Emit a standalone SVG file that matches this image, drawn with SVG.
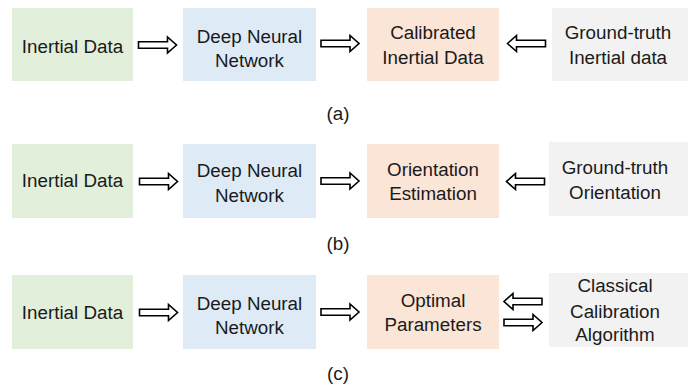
<svg xmlns="http://www.w3.org/2000/svg" width="688" height="388" viewBox="0 0 688 388">
<style>
text{font-family:"Liberation Sans","Open Sans",Arial,sans-serif;font-size:18.8px;fill:#1a1a1a;text-anchor:middle}
.g{fill:#E2EFDA}.b{fill:#DEEBF7}.p{fill:#FBE5D6}.y{fill:#F2F2F2}
.arr{fill:#fff;stroke:#000;stroke-width:1.6;stroke-linejoin:miter}
</style>
<defs>
<path id="ar" class="arr" d="M0,-3.3 H29 V-8 L38,0 L29,8 V3.3 H0 Z"/>
<path id="al" class="arr" d="M38,-3.3 H9 V-8 L0,0 L9,8 V3.3 H38 Z"/>
</defs>
<g id="a-input"><rect class="g" x="12" y="8" width="121" height="73"/><text x="72.5" y="52.5">Inertial Data</text></g>
<g id="a-dnn"><rect class="b" x="183" y="8" width="133" height="73"/><text x="249.5" y="42.5">Deep Neural</text><text x="249.5" y="66.5">Network</text></g>
<g id="a-out"><rect class="p" x="367" y="8" width="132" height="73"/><text x="433" y="39">Calibrated</text><text x="433" y="64">Inertial Data</text></g>
<g id="a-gt"><rect class="y" x="552" y="8" width="136" height="73"/><text x="618" y="39">Ground-truth</text><text x="618" y="64">Inertial data</text></g>
<text x="338" y="120">(a)</text>

<g id="b-input"><rect class="g" x="12" y="144" width="121" height="74"/><text x="72.5" y="187">Inertial Data</text></g>
<g id="b-dnn"><rect class="b" x="183" y="144" width="133" height="74"/><text x="249.5" y="177">Deep Neural</text><text x="249.5" y="202">Network</text></g>
<g id="b-out"><rect class="p" x="367" y="144" width="132" height="74"/><text x="433" y="176">Orientation</text><text x="433" y="200">Estimation</text></g>
<g id="b-gt"><rect class="y" x="549" y="142" width="139" height="74"/><text x="615" y="174">Ground-truth</text><text x="615" y="198.5">Orientation</text></g>
<text x="338" y="250">(b)</text>

<g id="c-input"><rect class="g" x="12" y="275" width="121" height="74"/><text x="72.5" y="318.5">Inertial Data</text></g>
<g id="c-dnn"><rect class="b" x="183" y="275" width="133" height="74"/><text x="249.5" y="309.5">Deep Neural</text><text x="249.5" y="333.5">Network</text></g>
<g id="c-out"><rect class="p" x="367" y="275" width="132" height="74"/><text x="433" y="307">Optimal</text><text x="433" y="331">Parameters</text></g>
<g id="c-alg"><rect class="y" x="549" y="273" width="139" height="74"/><text x="615" y="292">Classical</text><text x="615" y="318">Calibration</text><text x="615" y="341">Algorithm</text></g>
<text x="338" y="380">(c)</text>

<g id="connectors">
<use href="#ar" x="138.5" y="45"/>
<use href="#ar" x="321" y="43.5"/>
<use href="#al" x="507.5" y="43.5"/>
<use href="#ar" x="139.5" y="181.5"/>
<use href="#ar" x="321" y="181"/>
<use href="#al" x="506.5" y="181.5"/>
<use href="#ar" x="139.5" y="312.5"/>
<use href="#ar" x="321" y="312"/>
<use href="#al" x="504" y="301.5"/>
<use href="#ar" x="504" y="322.5"/>
</g>
</svg>
